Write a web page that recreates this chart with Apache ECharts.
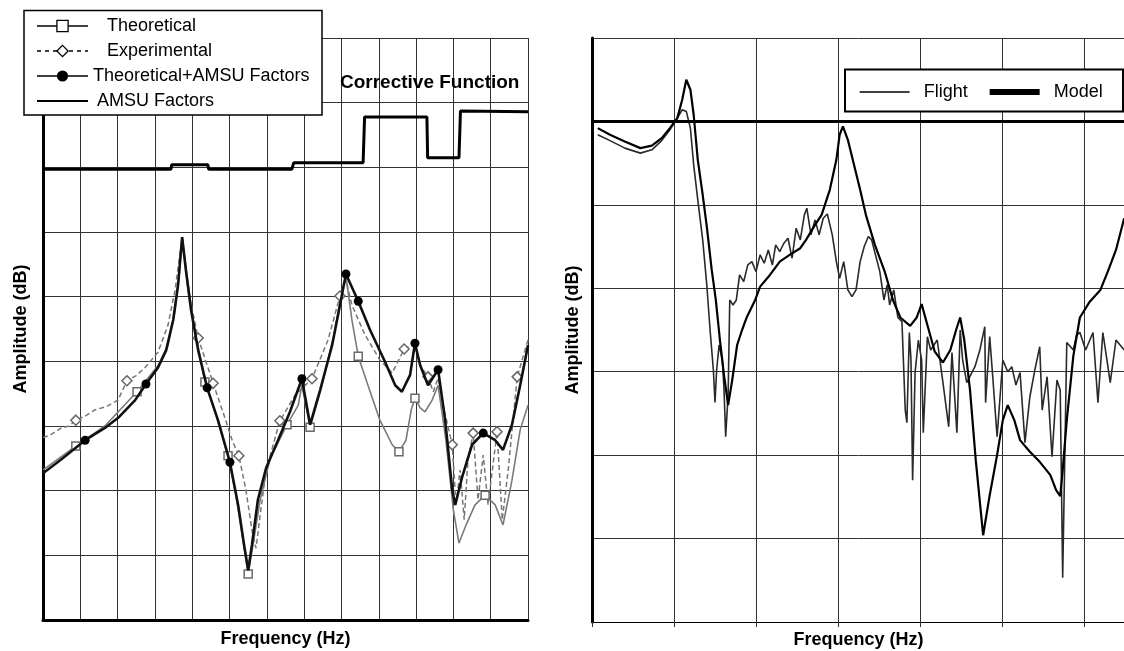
<!DOCTYPE html>
<html>
<head>
<meta charset="utf-8">
<script src="https://cdn.jsdelivr.net/npm/echarts/dist/echarts.min.js"></script>
<style>html,body{margin:0;padding:0;background:#fff;}#c{width:1124px;height:651px;}</style>
</head>
<body>
<div id="c"></div>
<script>
// ---------- Left panel data (x: grid divisions of frequency, y: grid divisions of amplitude) ----------
const theoretical = [[0,2.32],[0.88,2.69],[1.66,3.0],[2.52,3.53],[3.08,3.93],[3.35,4.25],[3.54,4.79],[3.65,5.33],[3.73,5.92],[3.86,5.33],[4.02,4.64],[4.34,3.68],[4.64,3.17],[4.96,2.54],[5.17,1.93],[5.36,1.24],[5.50,0.71],[5.63,1.16],[5.82,1.86],[6.09,2.50],[6.54,3.02],[6.84,3.32],[6.94,3.63],[7.16,2.98],[7.48,3.63],[7.80,4.41],[8.02,5.10],[8.12,5.32],[8.28,4.64],[8.45,4.08],[8.71,3.63],[9.03,3.09],[9.36,2.71],[9.54,2.60],[9.73,2.78],[9.87,3.25],[9.97,3.43],[10.11,3.28],[10.24,3.22],[10.43,3.40],[10.59,3.63],[10.80,2.78],[11.0,1.70],[11.15,1.19],[11.34,1.47],[11.58,1.78],[11.85,1.93],[12.12,1.78],[12.33,1.47],[12.57,2.16],[12.79,2.94],[13.0,3.32]];
const theoreticalMarks = [1,3,11,13,16,20,23,29,33,36,46];

const experimental = [[0,2.82],[0.2,2.86],[0.46,2.96],[0.7,3.0],[0.88,3.09],[1.15,3.16],[1.39,3.25],[1.7,3.30],[2.01,3.40],[2.25,3.70],[2.5,3.78],[2.73,3.90],[3.08,4.14],[3.35,4.56],[3.54,5.10],[3.73,5.92],[3.89,5.10],[4.16,4.36],[4.56,3.66],[4.85,3.17],[5.07,2.78],[5.25,2.54],[5.44,2.01],[5.60,1.39],[5.71,1.11],[5.82,1.62],[5.98,2.32],[6.35,3.08],[6.76,3.48],[7.21,3.73],[7.64,4.33],[7.96,5.01],[8.12,5.26],[8.28,4.87],[8.63,4.41],[9.03,4.02],[9.36,3.82],[9.68,4.19],[9.95,4.28],[10.11,3.94],[10.32,3.76],[10.46,3.53],[10.59,3.74],[10.75,3.25],[10.97,2.71],[11.07,1.78],[11.18,2.32],[11.29,1.55],[11.39,2.47],[11.53,2.89],[11.66,1.86],[11.80,2.55],[11.93,1.78],[12.17,2.91],[12.31,1.55],[12.47,2.32],[12.71,3.76],[13.0,4.33]];
const experimentalMarks = [4,9,17,18,21,27,29,31,37,40,44,49,53,56];

const theoAmsu = [[0,2.27],[0.46,2.47],[1.13,2.78],[1.66,2.97],[2.04,3.14],[2.47,3.40],[2.76,3.65],[3.08,3.90],[3.30,4.17],[3.49,4.64],[3.62,5.18],[3.73,5.92],[3.83,5.41],[3.97,4.79],[4.16,4.17],[4.40,3.59],[4.69,3.09],[5.01,2.44],[5.23,1.78],[5.39,1.16],[5.50,0.77],[5.60,1.16],[5.76,1.86],[5.98,2.35],[6.30,2.78],[6.62,3.22],[6.94,3.73],[7.16,3.02],[7.43,3.56],[7.75,4.25],[7.96,4.87],[8.12,5.35],[8.45,4.93],[8.77,4.48],[9.17,3.99],[9.44,3.63],[9.62,3.53],[9.84,3.79],[9.97,4.28],[10.11,3.94],[10.32,3.63],[10.59,3.87],[10.78,3.09],[10.97,2.01],[11.05,1.78],[11.23,2.20],[11.50,2.71],[11.80,2.89],[12.12,2.78],[12.33,2.63],[12.57,3.02],[12.79,3.63],[13.0,4.25]];
const theoAmsuMarks = [2,6,15,17,26,31,32,38,41,47];

const amsuFactors = [[0,6.97],[3.43,6.97],[3.45,7.04],[4.42,7.04],[4.44,6.97],[6.67,6.97],[6.72,7.07],[8.58,7.07],[8.62,7.78],[10.29,7.78],[10.31,7.15],[11.15,7.15],[11.19,7.87],[13,7.86]];

// ---------- Right panel data ----------
const flight = [[0.07,5.84],[0.22,5.77],[0.40,5.68],[0.59,5.62],[0.73,5.66],[0.85,5.77],[0.95,5.90],[1.04,6.04],[1.10,6.14],[1.15,6.12],[1.20,5.92],[1.24,5.48],[1.29,5.06],[1.35,4.58],[1.40,4.04],[1.44,3.50],[1.48,3.02],[1.50,2.63],[1.52,3.02],[1.55,3.32],[1.59,3.14],[1.61,2.78],[1.63,2.22],[1.66,2.72],[1.68,3.86],[1.72,3.80],[1.76,3.86],[1.80,4.16],[1.85,4.08],[1.90,4.28],[1.95,4.32],[2.00,4.20],[2.05,4.40],[2.10,4.30],[2.15,4.46],[2.20,4.28],[2.24,4.52],[2.29,4.44],[2.34,4.54],[2.39,4.60],[2.44,4.36],[2.49,4.72],[2.54,4.58],[2.59,4.88],[2.62,4.96],[2.67,4.64],[2.72,4.82],[2.77,4.64],[2.82,4.84],[2.87,4.89],[2.93,4.64],[2.98,4.32],[3.02,4.12],[3.07,4.32],[3.12,3.98],[3.17,3.90],[3.22,3.98],[3.27,4.32],[3.32,4.50],[3.37,4.62],[3.41,4.58],[3.46,4.39],[3.51,4.20],[3.56,3.86],[3.60,4.04],[3.63,3.80],[3.68,3.98],[3.73,3.65],[3.78,3.60],[3.82,2.54],[3.84,2.39],[3.87,3.47],[3.89,3.14],[3.91,1.70],[3.94,2.99],[3.98,3.38],[4.02,3.14],[4.04,2.27],[4.09,3.42],[4.13,3.26],[4.21,3.38],[4.28,2.87],[4.35,2.34],[4.39,3.23],[4.45,2.27],[4.49,3.50],[4.52,3.14],[4.57,2.87],[4.67,3.06],[4.73,3.26],[4.79,3.54],[4.80,2.63],[4.85,3.42],[4.89,2.90],[4.94,2.22],[5.01,3.14],[5.07,3.00],[5.12,3.06],[5.17,2.84],[5.22,2.99],[5.28,2.15],[5.34,2.70],[5.40,3.02],[5.46,3.30],[5.49,2.54],[5.55,2.94],[5.61,1.98],[5.67,2.90],[5.71,2.78],[5.74,0.53],[5.79,3.35],[5.87,3.26],[5.91,3.44],[5.95,3.47],[6.02,3.26],[6.11,3.47],[6.17,2.63],[6.23,3.47],[6.28,3.14],[6.32,2.87],[6.39,3.38],[6.44,3.32],[6.49,3.26]];

const model = [[0.07,5.92],[0.22,5.84],[0.40,5.76],[0.59,5.68],[0.73,5.71],[0.85,5.80],[0.95,5.92],[1.04,6.04],[1.10,6.26],[1.15,6.50],[1.20,6.38],[1.24,6.08],[1.29,5.54],[1.35,5.12],[1.40,4.74],[1.46,4.22],[1.51,3.86],[1.56,3.38],[1.61,2.96],[1.66,2.60],[1.71,2.90],[1.77,3.32],[1.83,3.50],[1.89,3.66],[1.99,3.86],[2.05,4.02],[2.17,4.16],[2.29,4.32],[2.41,4.40],[2.54,4.48],[2.61,4.58],[2.72,4.76],[2.80,4.88],[2.90,5.18],[2.98,5.54],[3.02,5.84],[3.06,5.94],[3.12,5.78],[3.18,5.54],[3.27,5.18],[3.34,4.88],[3.45,4.52],[3.57,4.20],[3.67,3.86],[3.76,3.65],[3.88,3.55],[3.96,3.65],[4.02,3.81],[4.09,3.56],[4.18,3.24],[4.28,3.11],[4.37,3.26],[4.44,3.50],[4.49,3.65],[4.54,3.38],[4.61,2.78],[4.68,1.94],[4.77,1.04],[4.85,1.52],[4.94,2.00],[5.01,2.42],[5.07,2.60],[5.15,2.42],[5.22,2.18],[5.34,2.04],[5.46,1.92],[5.59,1.76],[5.66,1.58],[5.71,1.51],[5.74,1.82],[5.79,2.42],[5.87,3.19],[5.95,3.65],[6.07,3.84],[6.20,3.98],[6.29,4.20],[6.39,4.46],[6.49,4.84]];

const referenceLevel = 6;   // heavy reference line in right panel
const xTitle = 'Frequency (Hz)';
const yTitle = 'Amplitude (dB)';

const FONT = 'Liberation Sans, Arial, sans-serif';
const gridLine = {show:true, lineStyle:{color:'#333', width:1}};
const titleText = {fontFamily:FONT, fontWeight:'bold', fontSize:18, color:'#000'};

function markSize(marks, size){ return function(v, p){ return marks.indexOf(p.dataIndex) >= 0 ? size : 0; }; }

const chart = echarts.init(document.getElementById('c'), null, {renderer:'canvas', width:1124, height:651});
chart.setOption({
  backgroundColor:'#fff',
  animation:false,
  title:{text:'Corrective Function', left:340, top:73, padding:0,
         textStyle:{fontFamily:FONT, fontWeight:'bold', fontSize:19, color:'#000'}},
  graphic:{elements:[
    {type:'rect', z:3, shape:{x:24, y:10.5, width:298, height:104.5}, style:{fill:'#fff', stroke:'#000', lineWidth:1.5}},
    {type:'rect', z:3, shape:{x:845, y:69.5, width:278, height:42}, style:{fill:'#fff', stroke:'#000', lineWidth:2}}
  ]},
  legend:[{
    z:5, orient:'vertical', left:36, top:17, padding:0, itemWidth:51, itemHeight:14, itemGap:7,
    selectedMode:false,
    data:[
      {name:'Theoretical', lineStyle:{color:'#000', width:1.3}, itemStyle:{color:'#fff', borderColor:'#000', borderWidth:1.3}},
      {name:'Experimental', lineStyle:{color:'#000', width:1.3, type:[4,4]}, itemStyle:{color:'#fff', borderColor:'#000', borderWidth:1.3}},
      {name:'Theoretical+AMSU Factors', lineStyle:{color:'#000', width:1.6}, itemStyle:{color:'#000', borderWidth:0}},
      {name:'AMSU Factors', lineStyle:{color:'#000', width:2}, itemStyle:{opacity:0}}
    ],
    formatter:function(n){
      if(n==='Theoretical' || n==='Experimental') return '{a|' + n + '}';
      if(n==='AMSU Factors') return '{b|' + n + '}';
      return n;
    },
    textStyle:{fontFamily:FONT, fontSize:18, color:'#000',
      rich:{a:{fontFamily:FONT, fontSize:18, color:'#000', padding:[0,0,0,14]},
            b:{fontFamily:FONT, fontSize:18, color:'#000', padding:[0,0,0,4]}}}
  },{
    z:5, orient:'horizontal', left:859, top:83, padding:0, itemWidth:50, itemHeight:14, itemGap:19,
    selectedMode:false,
    data:[
      {name:'Flight', lineStyle:{color:'#000', width:1.3}, itemStyle:{opacity:0}},
      {name:'Model', lineStyle:{color:'#000', width:6}, itemStyle:{opacity:0}}
    ],
    formatter:function(n){ return '{a|' + n + '}'; },
    textStyle:{fontFamily:FONT, fontSize:18, color:'#000',
      rich:{a:{fontFamily:FONT, fontSize:18, color:'#000', padding:[0,0,0,9]}}}
  }],
  grid:[
    {left:43, top:38, width:485, height:582, outerBoundsMode:'none', containLabel:false},
    {left:592, top:38, width:533, height:584, outerBoundsMode:'none', containLabel:false}
  ],
  xAxis:[
    {gridIndex:0, type:'value', min:0, max:13, interval:1,
     name:xTitle, nameLocation:'middle', nameGap:10, nameTextStyle:titleText,
     axisLine:{show:true, lineStyle:{color:'#000', width:3}}, axisTick:{show:false}, axisLabel:{show:false}, splitLine:gridLine},
    {gridIndex:1, type:'value', min:0, max:6.5, interval:1,
     name:xTitle, nameLocation:'middle', nameGap:9, nameTextStyle:titleText,
     axisLine:{show:true, lineStyle:{color:'#000', width:1.2}}, axisTick:{show:true, length:5, lineStyle:{color:'#333'}}, axisLabel:{show:false}, splitLine:gridLine}
  ],
  yAxis:[
    {gridIndex:0, type:'value', min:0, max:9, interval:1,
     name:yTitle, nameLocation:'middle', nameGap:13, nameTextStyle:titleText,
     axisLine:{show:true, lineStyle:{color:'#000', width:3}}, axisTick:{show:false}, axisLabel:{show:false}, splitLine:gridLine},
    {gridIndex:1, type:'value', min:0, max:7, interval:1,
     name:yTitle, nameLocation:'middle', nameGap:10, nameTextStyle:titleText,
     axisLine:{show:true, lineStyle:{color:'#000', width:3}}, axisTick:{show:false}, axisLabel:{show:false}, splitLine:gridLine}
  ],
  series:[
    {name:'AMSU Factors', type:'line', xAxisIndex:0, yAxisIndex:0, data:amsuFactors, symbol:'none',
     lineStyle:{color:'#000', width:3}, z:3},
    {name:'Theoretical', type:'line', xAxisIndex:0, yAxisIndex:0, data:theoretical,
     symbol:'rect', symbolSize:markSize(theoreticalMarks, 8), showSymbol:true,
     lineStyle:{color:'#7a7a7a', width:1.6}, itemStyle:{color:'#fff', borderColor:'#6a6a6a', borderWidth:1.5}, z:3},
    {name:'Experimental', type:'line', xAxisIndex:0, yAxisIndex:0, data:experimental,
     symbol:'diamond', symbolSize:markSize(experimentalMarks, 10), showSymbol:true,
     lineStyle:{color:'#777', width:1.5, type:[5,3]}, itemStyle:{color:'#fff', borderColor:'#666', borderWidth:1.5}, z:3},
    {name:'Theoretical+AMSU Factors', type:'line', xAxisIndex:0, yAxisIndex:0, data:theoAmsu,
     symbol:'circle', symbolSize:markSize(theoAmsuMarks, 9), showSymbol:true,
     lineStyle:{color:'#111', width:2.6}, itemStyle:{color:'#000'}, z:4},
    {name:'Flight', type:'line', xAxisIndex:1, yAxisIndex:1, data:flight, symbol:'none',
     lineStyle:{color:'#2a2a2a', width:1.6}, z:3},
    {name:'Model', type:'line', xAxisIndex:1, yAxisIndex:1, data:model, symbol:'none',
     lineStyle:{color:'#000', width:2.2}, z:3,
     markLine:{silent:true, symbol:'none', label:{show:false}, lineStyle:{color:'#000', width:3, type:'solid'},
               data:[{yAxis:referenceLevel}]}}
  ]
});
</script>
</body>
</html>
